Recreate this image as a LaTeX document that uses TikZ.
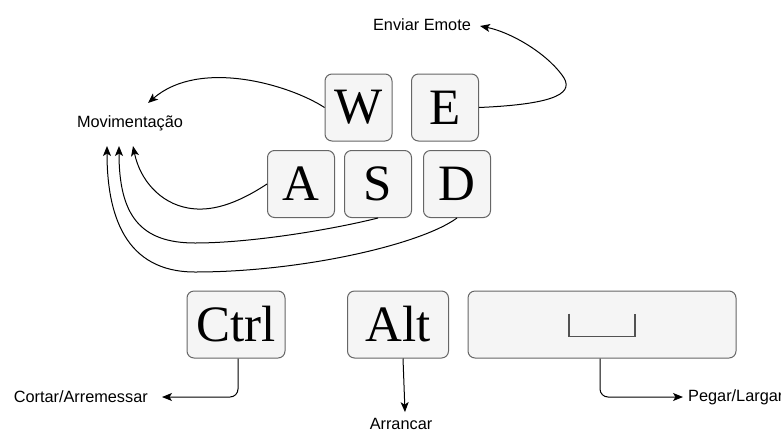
\documentclass[tikz,border=0pt]{standalone}
\usepackage{fontspec}
\setmainfont{Liberation Serif}
\newfontfamily\labelfont{Liberation Sans}
\usetikzlibrary{arrows.meta}
\definecolor{keyfill}{HTML}{F5F5F5}
\definecolor{keyline}{HTML}{666666}
\tikzset{
  keycap/.style={draw=keyline, fill=keyfill, line width=1pt, rounded corners=7pt,
    minimum height=67pt, inner sep=0pt, font=\fontsize{51}{51}\selectfont},
  lbl/.style={font=\labelfont\fontsize{16.3}{17}\selectfont, inner sep=0pt},
  arr/.style={draw=black, line width=1pt,
    -{Stealth[length=10pt, width=8pt, inset=2.5pt]}},
}
\begin{document}
\begin{tikzpicture}[x=1pt, y=-1pt]
\useasboundingbox (0,0) rectangle (781,432);

% keys
\node[keycap, minimum width=67pt] (W) at (358.5,107.5) {W};
\node[keycap, minimum width=67pt] (E) at (445,107.5) {E};
\node[keycap, minimum width=67pt] (A) at (301,184) {A};
\node[keycap, minimum width=67pt] (S) at (378,184) {S};
\node[keycap, minimum width=67pt] (D) at (457,184) {D};
\node[keycap, minimum width=98pt] (Ctrl) at (236,324.5) {Ctrl};
\node[keycap, minimum width=101pt] (Alt) at (398,324.5) {Alt};
\node[keycap, minimum width=268pt] (Space) at (602,324.5) {};
% space bar symbol
\draw[keyline!80!black, line width=1.3pt] (Space.center) ++(-33,-11) -- ++(0,23) -- ++(66,0) -- ++(0,-23);

% labels
\node[lbl] (emote) at (422,25) {Enviar Emote};
\node[lbl] (mov) at (130,123) {Movimentação};
\node[lbl, anchor=east] (cortar) at (148,397) {Cortar/Arremessar};
\node[lbl] (arrancar) at (401,424) {Arrancar};
\node[lbl, anchor=west] (pegar) at (688,397) {Pegar/Largar};

% arrow ends near the labels
\coordinate (emoteTip) at (480,26);
\coordinate (movW) at (148,103);
\coordinate (movA) at (133,146);
\coordinate (movS) at (119,146);
\coordinate (movD) at (107,146);

% connectors
\draw[arr] (E.east) .. controls (560,104) and (575,92) .. (562,75)
  .. controls (545,52) and (510,32) .. (emoteTip);
\draw[arr] (W.west) .. controls (290,85) and (200,58) .. (movW);
\draw[arr] (A.west) .. controls (235,205) and (210,212) .. (188,208)
  .. controls (160,203) and (140,180) .. (movA);
\draw[arr] (S.south) .. controls (330,230) and (250,243) .. (195,243)
  .. controls (140,243) and (119,215) .. (movS);
\draw[arr] (D.south) .. controls (420,245) and (300,272) .. (195,272)
  .. controls (125,272) and (107,215) .. (movD);

\draw[arr, rounded corners=8pt] ([xshift=2pt]Ctrl.south) |- ([xshift=14pt]cortar.east);
\draw[arr] ([xshift=5pt]Alt.south) -- ([xshift=4pt,yshift=6pt]arrancar.north);
\draw[arr, rounded corners=8pt] ([xshift=-2pt]Space.south) |- ([xshift=-5pt]pegar.west);
\end{tikzpicture}
\end{document}
